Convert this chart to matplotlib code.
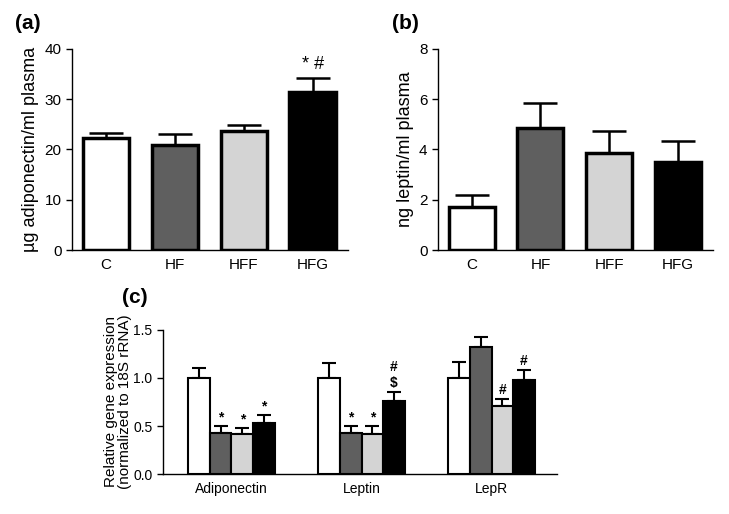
import matplotlib.pyplot as plt
import numpy as np

plt.rcParams['font.family'] = ['Liberation Sans', 'DejaVu Sans']

groups = ['C', 'HF', 'HFF', 'HFG']
colors = ['white', '#5f5f5f', '#d4d4d4', 'black']

# (a) adiponectin in plasma
adipo_mean = [22.2, 20.9, 23.6, 31.5]
adipo_sem = [1.0, 2.2, 1.3, 2.7]
adipo_marks = ['', '', '', '* #']

# (b) leptin in plasma
leptin_mean = [1.72, 4.85, 3.85, 3.52]
leptin_sem = [0.48, 1.0, 0.87, 0.8]

# (c) relative gene expression
genes = ['Adiponectin', 'Leptin', 'LepR']
expr_mean = {
    'C':   [1.0, 1.0, 1.0],
    'HF':  [0.43, 0.43, 1.32],
    'HFF': [0.42, 0.42, 0.71],
    'HFG': [0.53, 0.76, 0.98],
}
expr_sem = {
    'C':   [0.10, 0.16, 0.17],
    'HF':  [0.07, 0.07, 0.11],
    'HFF': [0.06, 0.08, 0.07],
    'HFG': [0.08, 0.09, 0.10],
}
expr_marks = {
    'C':   ['', '', ''],
    'HF':  ['*', '*', ''],
    'HFF': ['*', '*', '#'],
    'HFG': ['*', '#\n$', '#'],
}

fig = plt.figure(figsize=(7.29, 5.14), dpi=100)


def style(ax, fs):
    ax.spines['top'].set_visible(False)
    ax.spines['right'].set_visible(False)
    ax.spines['left'].set_linewidth(1.0)
    ax.spines['bottom'].set_linewidth(1.0)
    ax.tick_params(axis='y', direction='out', length=4, width=1, labelsize=fs)
    ax.tick_params(axis='x', length=0, labelsize=fs, pad=6)


def simple_panel(rect, mean, sem, ylabel, ylim, yticks, marks=None):
    ax = fig.add_axes(rect)
    x = np.arange(len(groups))
    ax.bar(x, mean, width=0.67, color=colors, edgecolor='black', linewidth=2.5, zorder=3)
    ax.errorbar(x, mean, yerr=[np.zeros(len(mean)), sem], fmt='none', ecolor='black',
                elinewidth=1.8, capsize=12, capthick=1.8, zorder=2)
    ax.set_xlim(-0.49, 3.51)
    ax.set_ylim(*ylim)
    ax.set_yticks(yticks)
    ax.set_xticks(x)
    ax.set_xticklabels(groups)
    ax.set_ylabel(ylabel, fontsize=13)
    if marks:
        for xi, m, s, mk in zip(x, mean, sem, marks):
            if mk:
                ax.text(xi, m + s + 0.025 * (ylim[1] - ylim[0]), mk, ha='center', va='bottom', fontsize=13)
    style(ax, 11)
    return ax


ax1 = simple_panel([0.0988, 0.5136, 0.3782, 0.3911], adipo_mean, adipo_sem,
                   '\u00b5g adiponectin/ml plasma', (0, 40), [0, 10, 20, 30, 40], adipo_marks)
ax2 = simple_panel([0.6008, 0.5136, 0.3772, 0.3911], leptin_mean, leptin_sem,
                   'ng leptin/ml plasma', (0, 8), [0, 2, 4, 6, 8])

ax3 = fig.add_axes([0.2236, 0.0778, 0.5405, 0.2802])
centers = np.arange(len(genes)) * 6.0
for i, g in enumerate(groups):
    xs = centers + (i - 1.5)
    ax3.bar(xs, expr_mean[g], width=1.0, color=colors[i], edgecolor='black', linewidth=1.5, zorder=3)
    ax3.errorbar(xs, expr_mean[g], yerr=[np.zeros(3), expr_sem[g]], fmt='none', ecolor='black',
                 elinewidth=1.5, capsize=5, capthick=1.5, zorder=2)
    for xi, m, s, mk in zip(xs, expr_mean[g], expr_sem[g], expr_marks[g]):
        if mk:
            ax3.text(xi, m + s + 0.02, mk, ha='center', va='bottom', fontsize=10,
                     fontweight='bold', linespacing=1.2)
ax3.set_xlim(-3.16, 15.02)
ax3.set_ylim(0, 1.5)
ax3.set_yticks([0.0, 0.5, 1.0, 1.5])
ax3.set_yticklabels(['0.0', '0.5', '1.0', '1.5'])
ax3.set_xticks(centers)
ax3.set_xticklabels(genes)
ax3.set_ylabel('Relative gene expression\n(normalized to 18S rRNA)', fontsize=11,
               linespacing=1.0, labelpad=1)
style(ax3, 10)

fig.text(0.021, 0.972, '(a)', fontsize=15, fontweight='bold', va='top')
fig.text(0.538, 0.972, '(b)', fontsize=15, fontweight='bold', va='top')
fig.text(0.167, 0.440, '(c)', fontsize=15, fontweight='bold', va='top')

fig.savefig('out.png', dpi=100)
